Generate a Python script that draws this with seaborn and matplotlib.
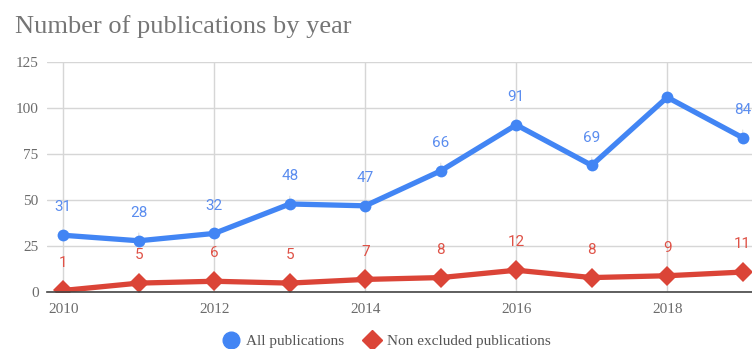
import matplotlib
matplotlib.use("Agg")
import matplotlib.pyplot as plt
from matplotlib.lines import Line2D
import seaborn as sns
import pandas as pd

years = [2010, 2011, 2012, 2013, 2014, 2015, 2016, 2017, 2018, 2019]
all_pubs = [31, 28, 32, 48, 47, 66, 91, 69, 106, 84]
non_excluded = [1, 5, 6, 5, 7, 8, 12, 8, 9, 11]
# value labels shown above the points (None = no label)
all_labels = ["31", "28", "32", "48", "47", "66", "91", "69", None, "84"]
non_excl_labels = ["1", "5", "6", "5", "7", "8", "12", "8", "9", "11"]
series_names = ["All publications", "Non excluded publications"]
y_ticks = [0, 25, 50, 75, 100, 125]
x_ticks = [2010, 2012, 2014, 2016, 2018]

BLUE = "#4285F4"
RED = "#DB4437"
SERIF = "Liberation Serif"
SANS = "Roboto"

sns.set_style("white")
plt.rcParams["font.family"] = [SERIF, "DejaVu Serif"]

df = pd.DataFrame({"year": years, "all": all_pubs, "non": non_excluded})

fig = plt.figure(figsize=(7.52, 3.49), dpi=100)
ax = fig.add_axes([47 / 752, 1 - 292.3 / 349, 1 - 47 / 752, (292.3 - 62.3) / 349])

sns.lineplot(data=df, x="year", y="all", ax=ax, color=BLUE, linewidth=3.8,
             marker="o", markersize=8.5, markeredgewidth=0, zorder=4)
sns.lineplot(data=df, x="year", y="non", ax=ax, color=RED, linewidth=3.8,
             marker="D", markersize=10, markeredgewidth=0, zorder=4)

ax.set_xlim(2009.784, 2019.123)
ax.set_ylim(0, 125)
ax.set_xticks(x_ticks)
ax.set_yticks(y_ticks)
ax.set_xticklabels([str(t) for t in x_ticks])
ax.set_yticklabels([str(t) for t in y_ticks])
ax.set_xlabel("")
ax.set_ylabel("")

ax.grid(True, color="#d6d6d6", linewidth=1.0, zorder=0)
ax.set_axisbelow(True)
for side in ["top", "right", "left"]:
    ax.spines[side].set_visible(False)
ax.spines["bottom"].set_color("#444444")
ax.spines["bottom"].set_linewidth(1.2)
ax.spines["bottom"].set_zorder(5)
ax.tick_params(axis="both", length=0, labelsize=11, labelcolor="#6b6b6b")
ax.tick_params(axis="y", pad=6)
ax.tick_params(axis="x", pad=8)

# value annotations with thin stems
for x, y, lab in zip(years, all_pubs, all_labels):
    if lab is None:
        continue
    ax.annotate(lab, (x, y), xytext=(0, 20), textcoords="offset points",
                ha="center", va="center", color="#5b8def", fontsize=11,
                family=SANS, annotation_clip=False, zorder=3,
                arrowprops=dict(arrowstyle="-", color="#e2e2e2", lw=0.8,
                                shrinkA=7, shrinkB=0))
for x, y, lab in zip(years, non_excluded, non_excl_labels):
    ax.annotate(lab, (x, y), xytext=(0, 20), textcoords="offset points",
                ha="center", va="center", color="#df5247", fontsize=11,
                family=SANS, annotation_clip=False, zorder=3,
                arrowprops=dict(arrowstyle="-", color="#e2e2e2", lw=0.8,
                                shrinkA=7, shrinkB=0))

fig.text(15 / 752, 1 - 33 / 349, "Number of publications by year",
         fontsize=19, color="#757575", family=SERIF, va="baseline", ha="left")

handles = [
    Line2D([], [], linestyle="none", marker="o", markersize=12, color=BLUE),
    Line2D([], [], linestyle="none", marker="D", markersize=10, color=RED),
]
fig.legend(handles, series_names, loc="center", bbox_to_anchor=(386 / 752, 1 - 341 / 349),
           ncol=2, frameon=False, fontsize=11, handletextpad=0.4, columnspacing=1.2,
           handlelength=1.2, labelcolor="#555555")

fig.savefig("out.png", dpi=100, facecolor="white")
